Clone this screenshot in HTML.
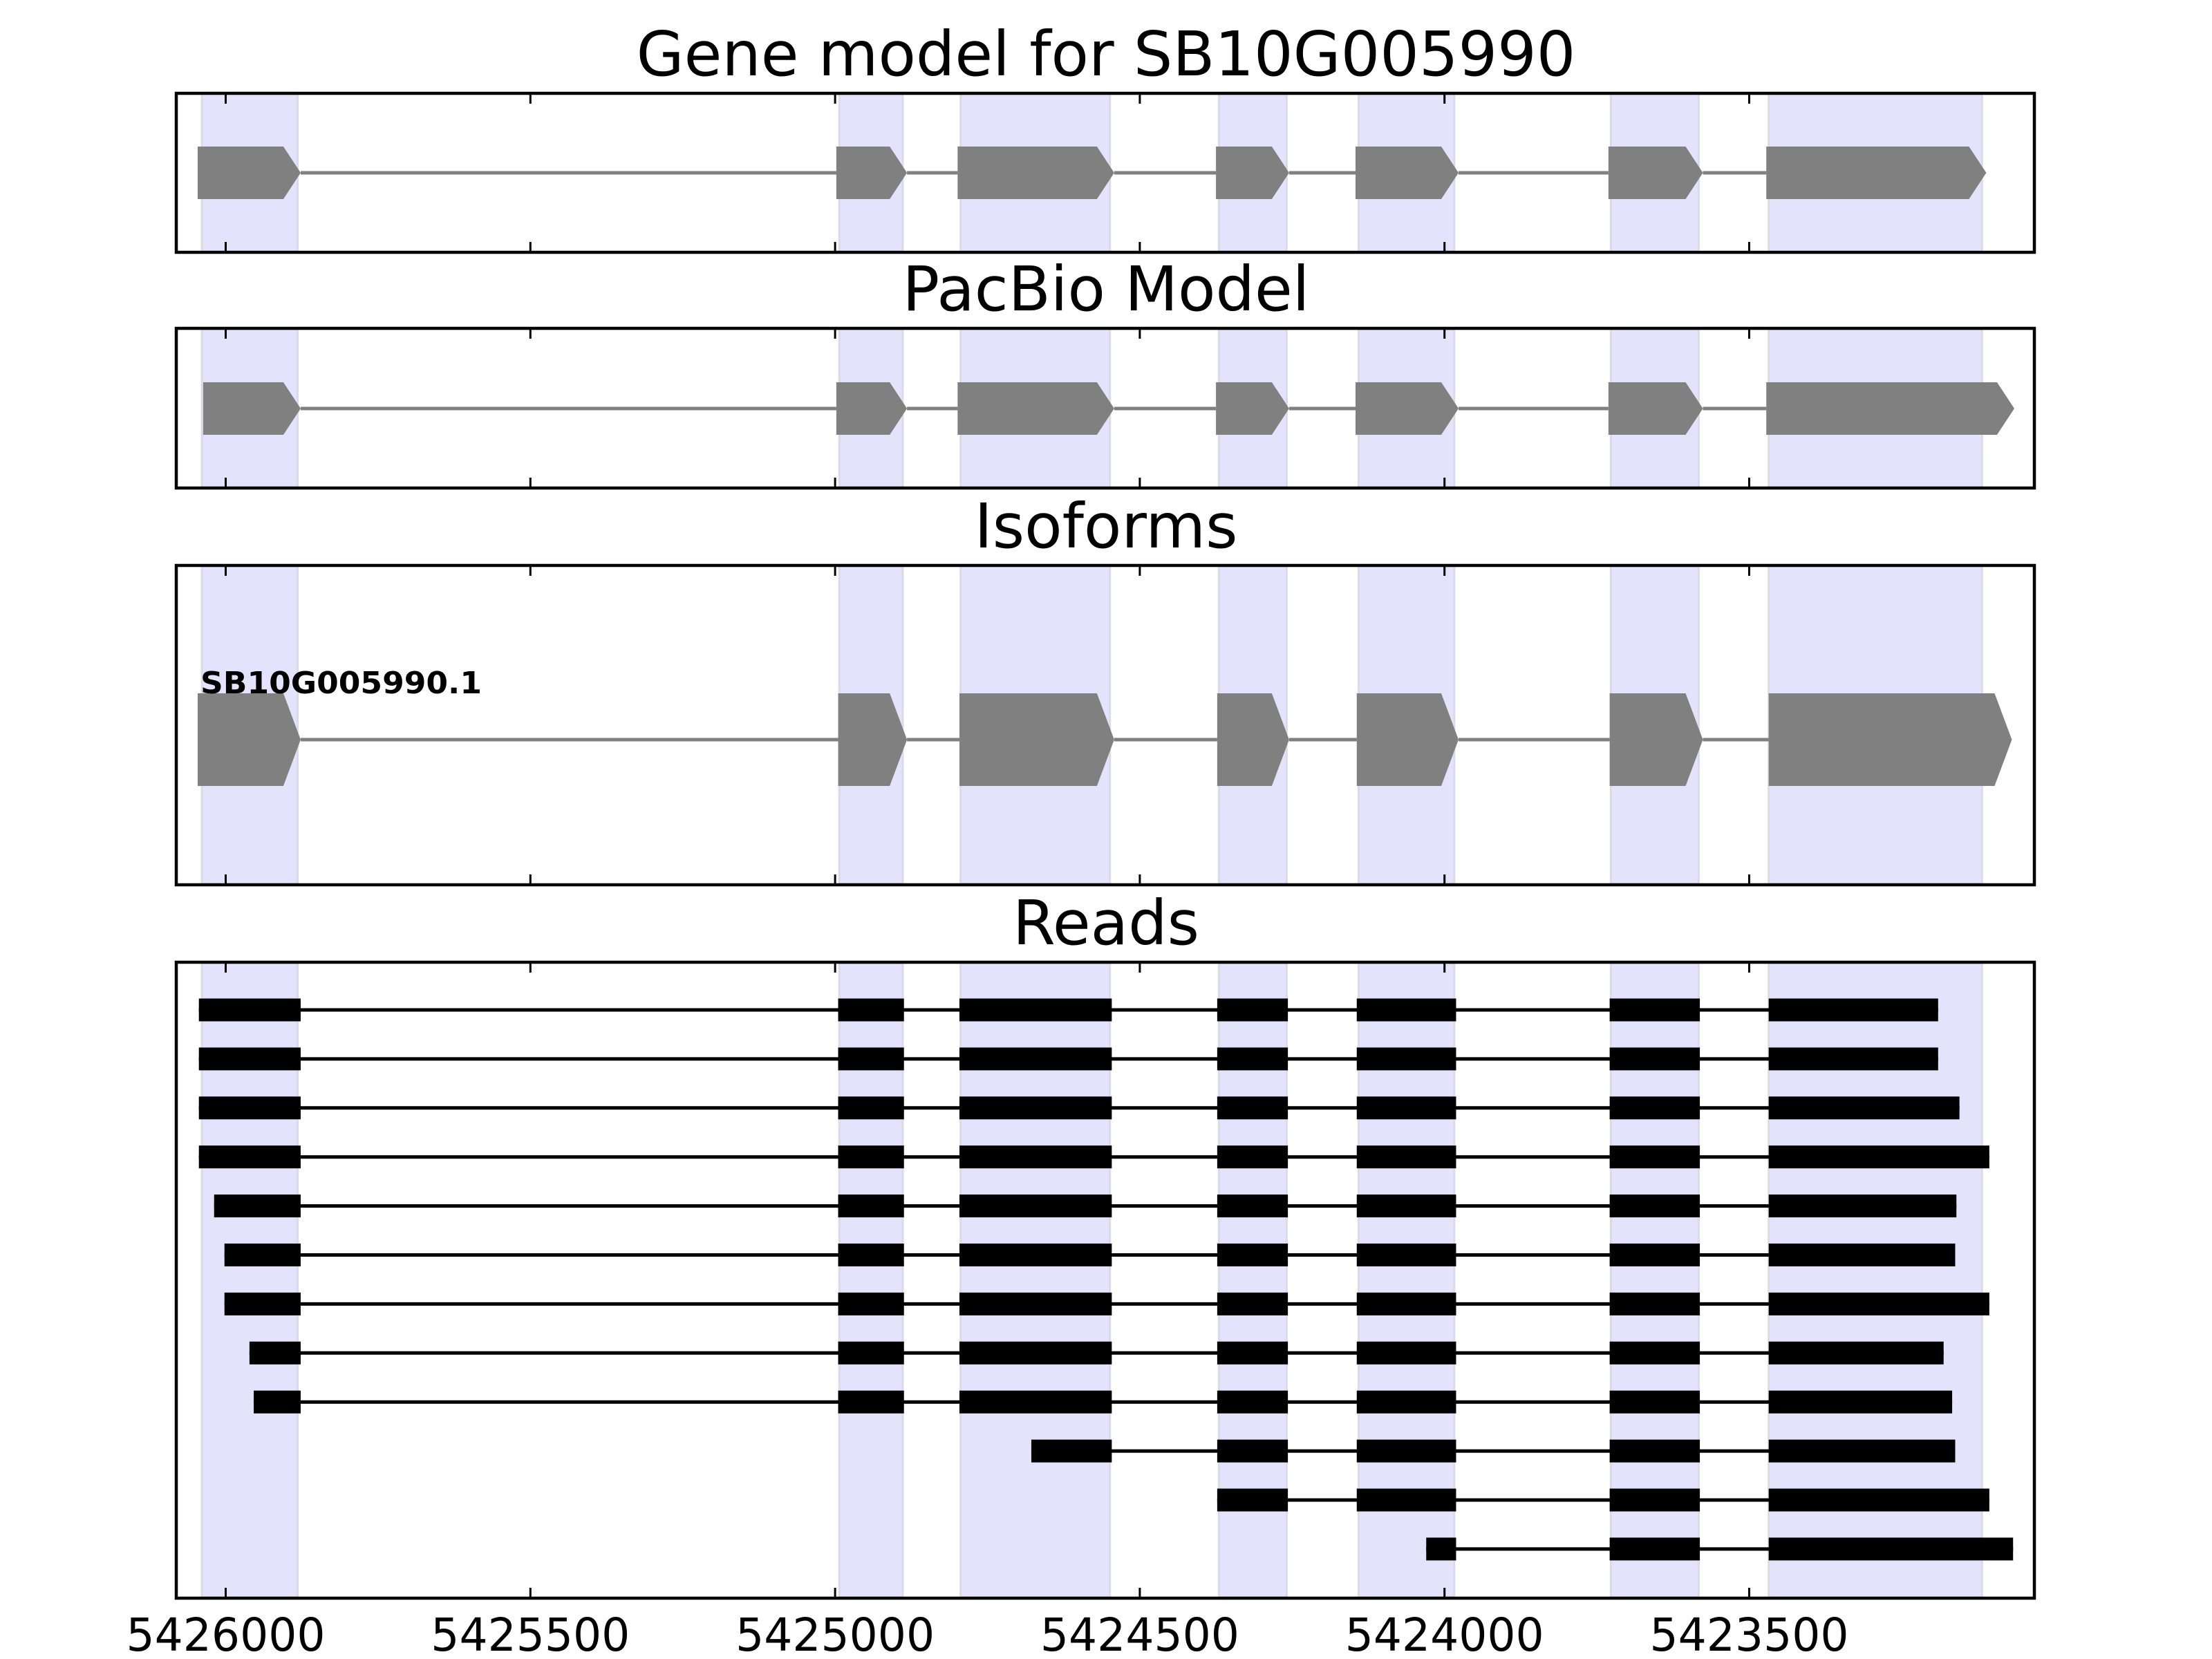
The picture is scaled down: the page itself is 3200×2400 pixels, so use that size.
<!DOCTYPE html>
<html><head><meta charset="utf-8">
<style>html,body{margin:0;padding:0;background:#fff}svg{display:block}</style>
</head><body>
<svg id="chart" width="3200" height="2400" viewBox="0 0 3200 2400" xmlns="http://www.w3.org/2000/svg" font-family="DejaVu Sans, Liberation Sans, sans-serif"></svg>
<script>
const tickValues = [5426000, 5425500, 5425000, 5424500, 5424000, 5423500];
const tickLabels = ["5426000", "5425500", "5425000", "5424500", "5424000", "5423500"];
const spanStarts = [5426039, 5424993, 5424794, 5424370, 5424141, 5423727, 5423468];
const spanEnds   = [5425882, 5424889, 5424549, 5424259, 5423984, 5423583, 5423118];
const geneStarts = [5426046, 5424998, 5424799, 5424375, 5424146, 5423731, 5423472];
const geneEnds   = [5425877, 5424882, 5424542, 5424255, 5423977, 5423576, 5423111];
const pacStarts  = [5426037, 5424998, 5424799, 5424375, 5424146, 5423731, 5423472];
const pacEnds    = [5425877, 5424882, 5424542, 5424255, 5423977, 5423576, 5423065];
const isoStarts  = [5426046, 5424995, 5424796, 5424373, 5424144, 5423729, 5423468];
const isoEnds    = [5425877, 5424882, 5424542, 5424255, 5423977, 5423576, 5423069];
const readExonStarts = [5426044, 5424995, 5424796, 5424373, 5424144, 5423729, 5423468];
const readExonEnds   = [5425877, 5424887, 5424546, 5424257, 5423981, 5423581, 5423190];
const readStarts = [5426044,5426044,5426044,5426044,5426019,5426002,5426002,5425961,5425954,5424678,5424373,5424030];
const readEnds   = [5423190,5423190,5423155,5423106,5423160,5423162,5423106,5423181,5423167,5423162,5423106,5423067];
const readFirstExon = [0,0,0,0,0,0,0,0,0,2,3,4];

const NS='http://www.w3.org/2000/svg';
const svg=document.getElementById('chart');
const X0=326.5, K=0.8816;
function x(v){return X0+(5426000-v)*K;}
const L=255, R=2943;
function mk(tag,attrs,parent){const e=document.createElementNS(NS,tag);for(const k in attrs)e.setAttribute(k,attrs[k]);(parent||svg).appendChild(e);return e;}

const panels=[
 {title:'Gene model for SB10G005990',top:135,bot:365,name:'gene-model-panel'},
 {title:'PacBio Model',top:475,bot:706,name:'pacbio-panel'},
 {title:'Isoforms',top:818,bot:1280,name:'isoforms-panel'},
 {title:'Reads',top:1392,bot:2312,name:'reads-panel'}
];

function geneShape(g,starts,ends,cy,h,name){
  for(let i=0;i<starts.length-1;i++){
    const ln=mk('line',{x1:x(ends[i]),x2:x(starts[i+1]),y1:cy,y2:cy,stroke:'#808080','stroke-width':5},g);
    
    
  }
  for(let i=0;i<starts.length;i++){
    const a=x(starts[i]),b=x(ends[i]),s=Math.max(a,b-25);
    const p=mk('polygon',{points:`${a},${cy-h/2} ${s},${cy-h/2} ${b},${cy} ${s},${cy+h/2} ${a},${cy+h/2}`,fill:'#808080'},g);
    
    
  }
}

panels.forEach((P,pi)=>{
  const g=mk('g',{});
  
  
  for(let i=0;i<spanStarts.length;i++){
    const r=mk('rect',{x:x(spanStarts[i]),y:P.top,width:x(spanEnds[i])-x(spanStarts[i]),height:P.bot-P.top,fill:'#e3e3fc',stroke:'#dadae8','stroke-width':3},g);
    
    
  }
  if(pi===0) geneShape(g,geneStarts,geneEnds,250,76,'gene-model');
  if(pi===1) geneShape(g,pacStarts,pacEnds,591,76,'pacbio');
  if(pi===2){
    geneShape(g,isoStarts,isoEnds,1070,134,'isoform');
    const t=mk('text',{x:290,y:1003,'font-size':44,'font-weight':'bold',fill:'#000',textLength:407,lengthAdjust:'spacingAndGlyphs'},g);
    t.textContent='SB10G005990.1';
    
    
  }
  if(pi===3){
    for(let r=0;r<readStarts.length;r++){
      const cy=1461+r*70.9;
      const rg=mk('g',{},g);
      
      
      mk('line',{x1:x(readStarts[r]),x2:x(readEnds[r]),y1:cy,y2:cy,stroke:'#000','stroke-width':5},rg);
      for(let e=readFirstExon[r];e<readExonStarts.length;e++){
        const s=(e===readFirstExon[r])?readStarts[r]:readExonStarts[e];
        const en=(e===readExonStarts.length-1)?readEnds[r]:readExonEnds[e];
        const b=mk('rect',{x:x(s),y:cy-16.5,width:x(en)-x(s),height:33,fill:'#000'},rg);
        
        
      }
    }
  }
  tickValues.forEach(v=>{
    mk('line',{x1:x(v),x2:x(v),y1:P.top,y2:P.top+15,stroke:'#000','stroke-width':3},g);
    mk('line',{x1:x(v),x2:x(v),y1:P.bot,y2:P.bot-15,stroke:'#000','stroke-width':3},g);
  });
  const f=mk('rect',{x:L,y:P.top,width:R-L,height:P.bot-P.top,fill:'none',stroke:'#000','stroke-width':4.5},g);
  
  
  const t=mk('text',{x:1600,y:P.top-26,'font-size':89,'text-anchor':'middle',fill:'#000'},g);
  t.textContent=P.title;
  
  
});

tickValues.forEach((v,i)=>{
  const t=mk('text',{x:x(v),y:2388,'font-size':66,'text-anchor':'middle',fill:'#000',textLength:288,lengthAdjust:'spacingAndGlyphs'});
  t.textContent=tickLabels[i];
  
  
});
</script>
</body></html>
